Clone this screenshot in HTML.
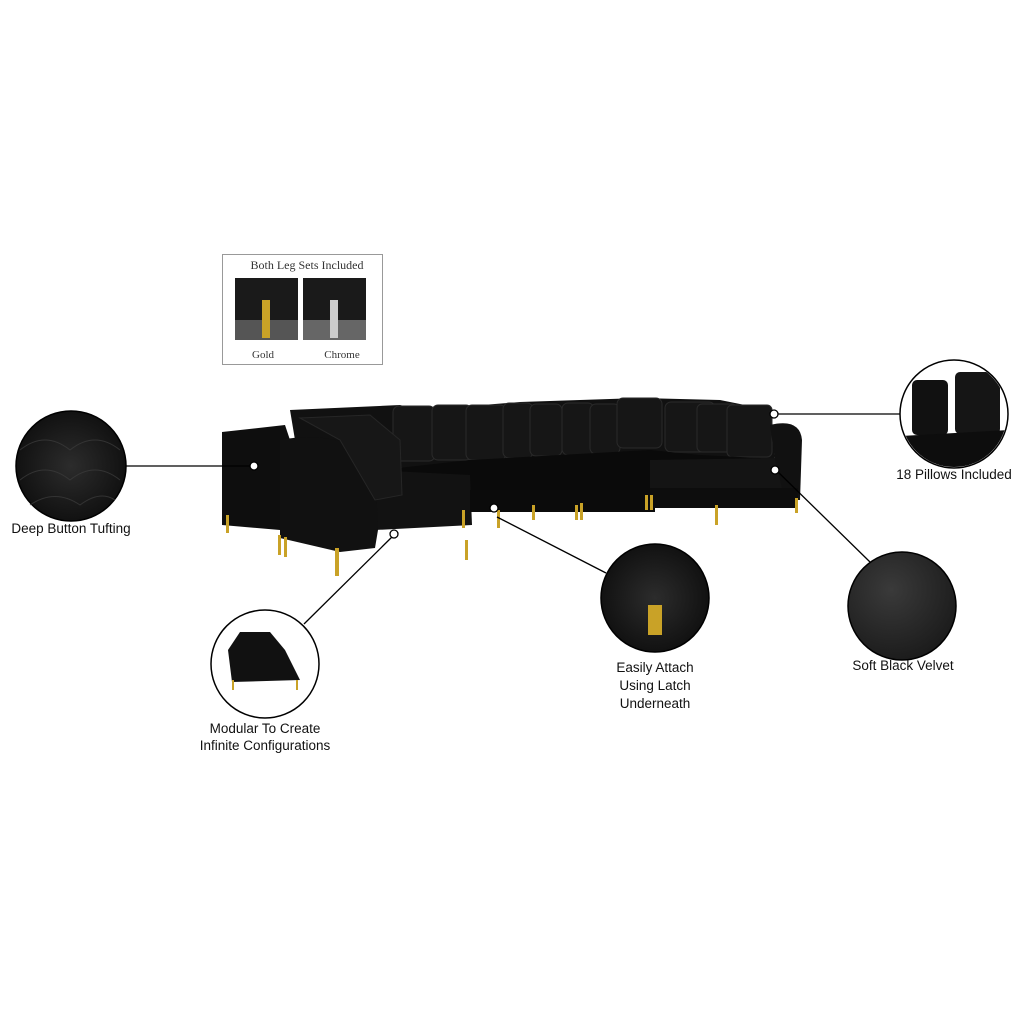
<!DOCTYPE html>
<html><head><meta charset="utf-8"><style>
html,body{margin:0;padding:0;background:#fff;}
svg{display:block}
text{font-family:"Liberation Sans",sans-serif;font-size:13.5px;fill:#111;}
.s{font-family:"Liberation Serif",serif;font-size:12px;fill:#333}
</style></head><body>
<svg width="1024" height="1024" viewBox="0 0 1024 1024" xmlns="http://www.w3.org/2000/svg">
<defs>
<radialGradient id="v" cx="40%" cy="35%" r="70%"><stop offset="0" stop-color="#3a3a3a"/><stop offset="1" stop-color="#1a1a1a"/></radialGradient>
<radialGradient id="t" cx="50%" cy="50%" r="60%"><stop offset="0" stop-color="#2c2c2c"/><stop offset="1" stop-color="#0c0c0c"/></radialGradient>
<clipPath id="c1"><circle cx="954" cy="414" r="53"/></clipPath>
</defs>
<rect x="222.5" y="254.5" width="160" height="110" fill="#fff" stroke="#999"/>
<text class="s" x="307" y="269" text-anchor="middle">Both Leg Sets Included</text>
<rect x="235" y="278" width="63" height="62" fill="#1a1a1a"/>
<rect x="235" y="320" width="63" height="20" fill="#555"/>
<rect x="262" y="300" width="8" height="38" fill="#c9a227"/>
<rect x="303" y="278" width="63" height="62" fill="#1a1a1a"/>
<rect x="303" y="320" width="63" height="20" fill="#666"/>
<rect x="330" y="300" width="8" height="38" fill="#ccc"/>
<text class="s" x="263" y="358" text-anchor="middle" style="font-size:11px">Gold</text>
<text class="s" x="342" y="358" text-anchor="middle" style="font-size:11px">Chrome</text>

<g fill="#0d0d0d">
<path d="M290 410 L400 405 L420 410 L520 402 L640 398 L720 400 L770 410 L775 460 L300 470 Z" fill="#111"/>
<g fill="#161616" stroke="#2a2a2a" stroke-width="1">
<rect x="393" y="406" width="42" height="55" rx="6"/><rect x="432" y="405" width="40" height="55" rx="6"/>
<rect x="466" y="405" width="40" height="55" rx="6"/><rect x="503" y="403" width="30" height="55" rx="6"/>
<rect x="530" y="404" width="32" height="52" rx="6"/><rect x="562" y="403" width="32" height="52" rx="6"/>
<rect x="590" y="404" width="30" height="50" rx="6"/><rect x="617" y="398" width="45" height="50" rx="6"/>
<rect x="665" y="402" width="50" height="50" rx="6"/><rect x="697" y="404" width="40" height="48" rx="5"/>
<rect x="727" y="405" width="45" height="52" rx="5"/>
</g>
<path d="M380 470 L470 460 L650 450 L700 455 L760 458 L790 470 L790 500 L650 498 L640 505 L470 510 L470 525 L380 525 Z" fill="#0a0a0a"/>
<path d="M650 460 L780 458 L795 470 L795 500 L650 498 Z" fill="#141414"/>
<path d="M372 470 L470 475 L472 525 L375 530 Z" fill="#121212"/>
<path d="M222 432 L285 425 L290 440 L280 530 L222 525 Z" fill="#0e0e0e"/>
<path d="M280 440 Q330 430 375 455 L378 530 L375 548 L340 552 L280 538 Z" fill="#111"/>
<path d="M300 418 L370 415 L400 440 L402 495 L375 500 L340 440 Z" fill="#171717" stroke="#262626"/>
<path d="M770 425 Q800 418 802 440 L800 500 L785 500 L775 460 Z" fill="#111"/>
<rect x="470" y="490" width="185" height="22" fill="#0b0b0b"/>
<rect x="650" y="488" width="148" height="20" fill="#0d0d0d"/>
</g>
<g fill="#c9a227">
<rect x="226" y="515" width="3" height="18"/><rect x="278" y="535" width="3" height="20"/><rect x="284" y="537" width="3" height="20"/>
<rect x="335" y="548" width="4" height="28"/><rect x="465" y="540" width="3" height="20"/>
<rect x="462" y="510" width="3" height="18"/><rect x="497" y="510" width="3" height="18"/>
<rect x="532" y="505" width="3" height="15"/><rect x="575" y="505" width="3" height="15"/>
<rect x="580" y="503" width="3" height="17"/><rect x="645" y="495" width="3" height="15"/>
<rect x="650" y="495" width="3" height="15"/><rect x="715" y="505" width="3" height="20"/>
<rect x="795" y="498" width="3" height="15"/>
</g>

<g stroke="#000" stroke-width="1.3" fill="none">
<line x1="126" y1="466" x2="254" y2="466"/>
<line x1="776" y1="414" x2="900" y2="414"/>
<line x1="776" y1="470" x2="870" y2="562"/>
<line x1="497" y1="517" x2="606" y2="573"/>
<line x1="395" y1="534" x2="304" y2="624"/>
</g>
<g fill="#fff" stroke="#000" stroke-width="1.3">
<circle cx="254" cy="466" r="4"/><circle cx="774" cy="414" r="4"/><circle cx="775" cy="470" r="4"/>
<circle cx="494" cy="508" r="4"/><circle cx="394" cy="534" r="4"/>
</g>

<circle cx="71" cy="466" r="55" fill="url(#t)" stroke="#000" stroke-width="1.5"/>
<g stroke="#3a3a3a" stroke-width="1" fill="none" opacity=".8">
<path d="M20 450 Q45 430 70 450 Q95 430 120 450"/><path d="M20 480 Q45 460 70 480 Q95 460 120 480"/><path d="M30 505 Q55 488 80 505 Q100 490 115 500"/>
</g>
<circle cx="954" cy="414" r="54" fill="#fff" stroke="#000" stroke-width="1.5"/>
<g clip-path="url(#c1)">
<rect x="912" y="380" width="36" height="55" rx="5" fill="#111"/>
<rect x="955" y="372" width="45" height="62" rx="5" fill="#151515"/>
<path d="M900 436 L1010 430 L1010 470 L900 470 Z" fill="#0d0d0d"/>
</g>
<circle cx="902" cy="606" r="54" fill="url(#v)" stroke="#000" stroke-width="1.5"/>
<circle cx="655" cy="598" r="54" fill="url(#t)" stroke="#000" stroke-width="1.5"/>
<rect x="648" y="605" width="14" height="30" fill="#c9a227"/>
<circle cx="265" cy="664" r="54" fill="#fff" stroke="#000" stroke-width="1.5"/>
<path d="M228 650 L240 632 L270 632 L285 650 L300 680 L232 682 Z" fill="#111"/>
<rect x="232" y="680" width="2" height="10" fill="#c9a227"/><rect x="296" y="680" width="2" height="10" fill="#c9a227"/>

<text x="71" y="533" text-anchor="middle">Deep Button Tufting</text>
<text x="954" y="479" text-anchor="middle">18 Pillows Included</text>
<text x="903" y="670" text-anchor="middle">Soft Black Velvet</text>
<text x="655" y="672" text-anchor="middle">Easily Attach</text>
<text x="655" y="690" text-anchor="middle">Using Latch</text>
<text x="655" y="708" text-anchor="middle">Underneath</text>
<text x="265" y="733" text-anchor="middle">Modular To Create</text>
<text x="265" y="750" text-anchor="middle">Infinite Configurations</text>
</svg>
</body></html>
